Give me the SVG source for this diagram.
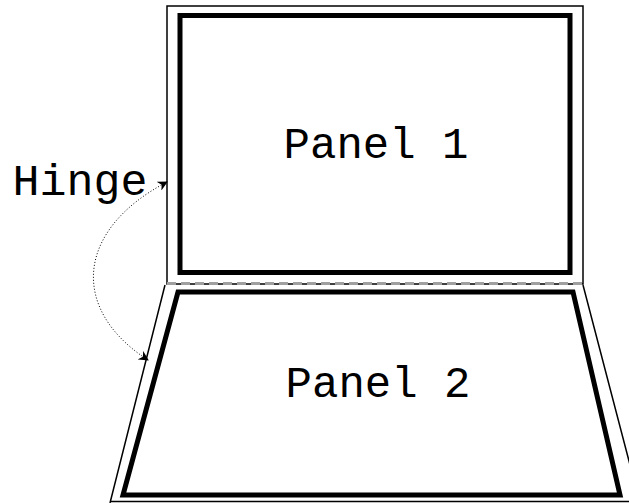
<svg xmlns="http://www.w3.org/2000/svg" width="629" height="503" viewBox="0 0 629 503">
<style>
.thin{fill:none;stroke:#000;stroke-width:1.5}
.thick{fill:none;stroke:#000;stroke-width:5;stroke-linejoin:miter}
.lbl{font-family:"Liberation Mono","DejaVu Sans Mono",monospace;font-size:44px;fill:#000;text-anchor:middle}
</style>
<defs>
<marker id="ah" viewBox="0 0 10 10" refX="9" refY="5" markerWidth="10" markerHeight="10" markerUnits="userSpaceOnUse" orient="auto-start-reverse">
<path d="M0,0 L10,5 L0,10 L3,5 Z" fill="#000"/>
</marker>
</defs>
<rect width="629" height="503" fill="#fff"/>
<g id="panel1">
<rect class="thin" x="167" y="6" width="416" height="278"/>
<rect class="thick" x="180" y="15.5" width="390" height="257"/>
<text class="lbl" x="376" y="158">Panel 1</text>
</g>
<g id="panel2">
<path class="thin" d="M165,285 L110,503 M583,285 L640,503 M110,501.5 L640,501.5"/>
<path class="thick" d="M178,292 L573,292 L620,495 L123,495 Z"/>
<text class="lbl" x="378" y="397">Panel 2</text>
</g>
<g id="hinge">
<line x1="167" y1="283.5" x2="583" y2="283.5" stroke="#a0a0a0" stroke-width="3" stroke-dasharray="9,5"/>
<text x="80" y="195" font-family="Liberation Mono, DejaVu Sans Mono, monospace" font-size="45" text-anchor="middle">Hinge</text>
</g>
<g id="connectors">
<path d="M167,182 C75,230 70,310 148,360" fill="none" stroke="#000" stroke-width="1" stroke-dasharray="1,2" marker-start="url(#ah)" marker-end="url(#ah)"/>
</g>
</svg>
